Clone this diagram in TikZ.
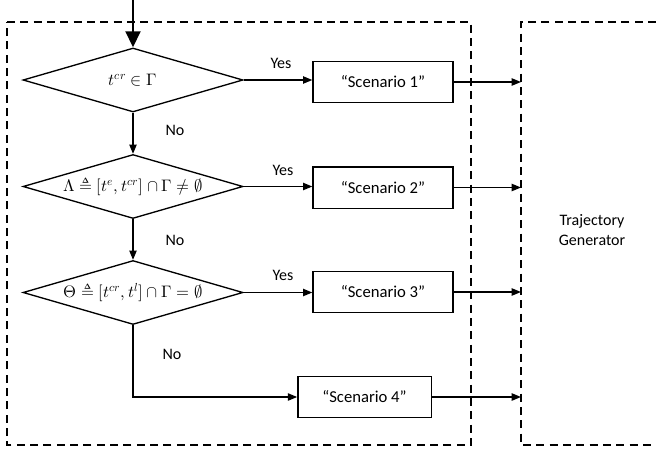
\documentclass[tikz,border=0pt]{standalone}
\usepackage{fontspec}
\usepackage{unicode-math}
\setmainfont{Carlito}
\setmathfont{Latin Modern Math}
\usetikzlibrary{shapes.geometric,arrows.meta}

\tikzset{every picture/.style={line width=1pt}}
\tikzset{
  decision/.style={diamond, draw, inner sep=0pt, aspect=3.2, minimum width=165pt, minimum height=48pt, font=\fontsize{12.5}{15}\selectfont},
  scenbox/.style={rectangle, draw, inner sep=0pt, minimum width=105pt, minimum height=31pt, font=\fontsize{12.5}{15}\selectfont},
  flow/.style={-{Triangle[length=7pt,width=5.5pt]}},
  lbl/.style={inner sep=0.75pt, font=\fontsize{12}{15}\selectfont},
  frame/.style={dash pattern=on 6pt off 4pt}
}

\begin{document}
\begin{tikzpicture}[x=0.75pt,y=0.75pt,yscale=-1,xscale=1]
\useasboundingbox (0,0) rectangle (656,450);

%Dashed frames
\draw [frame] (7,22) -- (471,22) -- (471,445) -- (7,445) -- cycle ;
\draw [frame] (656,22) -- (521,22) -- (521,445) -- (656,445) ;

%Decisions
\node [decision] (d1) at (133,80) {$t^{cr}\in\Gamma$};
\node [decision] (d2) at (133,186.5) {$\Lambda\triangleq[t^{e},t^{cr}]\cap\Gamma≠\emptyset$};
\node [decision] (d3) at (133,292.5) {$\Theta\triangleq[t^{cr},t^{l}]\cap\Gamma=\emptyset$};

%Scenarios
\node [scenbox] (s1) at (383,82) {``Scenario 1''};
\node [scenbox] (s2) at (383,187.5) {``Scenario 2''};
\node [scenbox] (s3) at (383,292) {``Scenario 3''};
\node [scenbox, minimum width=100pt] (s4) at (364.5,397) {``Scenario 4''};

%Free ends
\coordinate (entry) at (133,0);
\coordinate (g1) at (521,82);
\coordinate (g2) at (521,187.5);
\coordinate (g3) at (521,292);
\coordinate (g4) at (521,397);

%Connectors
\draw [line width=2.2pt, -{Triangle[length=12pt,width=11pt]}] (entry) -- (d1.north);
\draw [flow] (d1.south) -- (d2.north);
\draw [flow] (d2.south) -- (d3.north);
\draw [flow] (d3.south) |- (s4.west);
\draw [flow] (d1.east) -- (d1.east -| s1.west);
\draw [flow] (d2.east) -- (d2.east -| s2.west);
\draw [flow] (d3.east) -- (d3.east -| s3.west);
\draw [flow] (s1.east) -- (g1);
\draw [flow] (s2.east) -- (g2);
\draw [flow] (s3.east) -- (g3);
\draw [flow] (s4.east) -- (g4);

% Text Node
\node [lbl] (y1) at (281,63) {Yes};
\node [lbl] (y2) at (283,170) {Yes};
\node [lbl] (y3) at (283,275) {Yes};
\node [lbl] (n1) at (175,130) {No};
\node [lbl] (n2) at (175,240) {No};
\node [lbl] (n3) at (172,354) {No};
\node [lbl, align=center] (gen) at (592,230) {Trajectory\\Generator};

\end{tikzpicture}
\end{document}
